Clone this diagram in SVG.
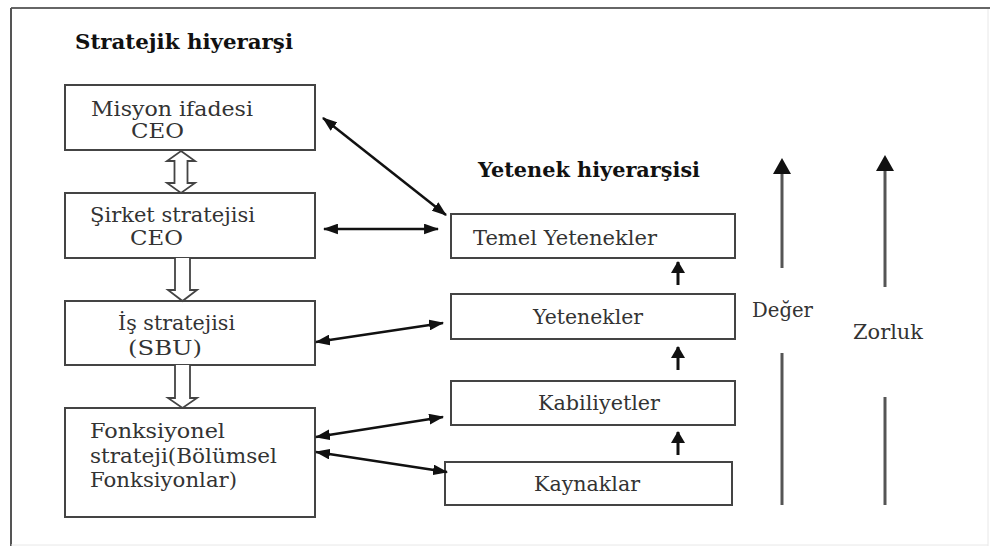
<svg xmlns="http://www.w3.org/2000/svg" width="990" height="546" viewBox="0 0 990 546">
<defs>
<style>
.box{fill:#fff;stroke:#444;stroke-width:2}
.t{font-family:'DejaVu Serif','Liberation Serif',serif;font-size:21px;fill:#333}
.h{font-family:'DejaVu Serif','Liberation Serif',serif;font-size:21px;font-weight:bold;fill:#111}
.hol{fill:#fff;stroke:#444;stroke-width:1.8;stroke-linejoin:miter}
.con{stroke:#111;stroke-width:2.5;fill:none}
.dbl{marker-start:url(#ah);marker-end:url(#ah)}
.up{stroke:#111;stroke-width:3;fill:none;marker-end:url(#ahs)}
.vl{stroke:#555;stroke-width:3;fill:none}
</style>
<marker id="ah" viewBox="0 0 14 10" refX="13" refY="5" markerWidth="15" markerHeight="11" markerUnits="userSpaceOnUse" orient="auto-start-reverse">
<path d="M0,0 L14,5 L0,10 Z" fill="#111"/>
</marker>
<marker id="ahs" viewBox="0 0 12 14" refX="11" refY="7" markerWidth="12" markerHeight="14" markerUnits="userSpaceOnUse" orient="auto">
<path d="M0,0 L12,7 L0,14 Z" fill="#111"/>
</marker>
</defs>
<rect x="0" y="0" width="990" height="546" fill="#fff"/>
<g id="frame">
<line x1="11" y1="8" x2="990" y2="8" stroke="#666" stroke-width="2"/>
<line x1="11" y1="8" x2="11" y2="546" stroke="#555" stroke-width="2"/>
<line x1="988" y1="9" x2="988" y2="546" stroke="#e8e8e8" stroke-width="1"/>
<line x1="11" y1="545" x2="988" y2="545" stroke="#e8e8e8" stroke-width="1"/>
</g>
<g id="titles">
<text class="h" x="75" y="49" textLength="218" lengthAdjust="spacingAndGlyphs">Stratejik hiyerarşi</text>
<text class="h" x="478" y="177" textLength="222" lengthAdjust="spacingAndGlyphs">Yetenek hiyerarşisi</text>
</g>
<g id="misyon">
<rect class="box" x="65" y="85" width="250" height="65"/>
<text class="t" x="91" y="116" textLength="162" lengthAdjust="spacingAndGlyphs">Misyon ifadesi</text>
<text class="t" x="131" y="138" textLength="53" lengthAdjust="spacingAndGlyphs">CEO</text>
</g>
<g id="sirket">
<rect class="box" x="65" y="193" width="250" height="65"/>
<text class="t" x="90" y="222" textLength="165" lengthAdjust="spacingAndGlyphs">Şirket stratejisi</text>
<text class="t" x="130" y="245" textLength="53" lengthAdjust="spacingAndGlyphs">CEO</text>
</g>
<g id="is">
<rect class="box" x="65" y="301" width="250" height="64"/>
<text class="t" x="118" y="330" textLength="117" lengthAdjust="spacingAndGlyphs">İş stratejisi</text>
<text class="t" x="128" y="355" textLength="74" lengthAdjust="spacingAndGlyphs">(SBU)</text>
</g>
<g id="fonksiyonel">
<rect class="box" x="65" y="408" width="250" height="109"/>
<text class="t" x="90" y="438" textLength="135" lengthAdjust="spacingAndGlyphs">Fonksiyonel</text>
<text class="t" x="90" y="463" textLength="187" lengthAdjust="spacingAndGlyphs">strateji(Bölümsel</text>
<text class="t" x="90" y="487" textLength="147" lengthAdjust="spacingAndGlyphs">Fonksiyonlar)</text>
</g>
<g id="temel">
<rect class="box" x="451" y="214" width="284" height="44"/>
<text class="t" x="473" y="245" textLength="184" lengthAdjust="spacingAndGlyphs">Temel  Yetenekler</text>
</g>
<g id="yetenekler">
<rect class="box" x="451" y="294" width="284" height="45"/>
<text class="t" x="533" y="324" textLength="110" lengthAdjust="spacingAndGlyphs">Yetenekler</text>
</g>
<g id="kabiliyetler">
<rect class="box" x="451" y="381" width="284" height="44"/>
<text class="t" x="538" y="410" textLength="122" lengthAdjust="spacingAndGlyphs">Kabiliyetler</text>
</g>
<g id="kaynaklar">
<rect class="box" x="445" y="462" width="287" height="43"/>
<text class="t" x="534" y="491" textLength="106" lengthAdjust="spacingAndGlyphs">Kaynaklar</text>
</g>
<g id="deger">
<line class="vl" x1="782" y1="268" x2="782" y2="172" stroke="#111"/>
<path d="M782,158 L791,174 L773,174 Z" fill="#111"/>
<line class="vl" x1="782" y1="353" x2="782" y2="505"/>
<text class="t" x="752" y="317" textLength="61" lengthAdjust="spacingAndGlyphs">Değer</text>
</g>
<g id="zorluk">
<line class="vl" x1="885" y1="287" x2="885" y2="170" stroke="#111"/>
<path d="M885,155 L894,171 L876,171 Z" fill="#111"/>
<line class="vl" x1="885" y1="397" x2="885" y2="505"/>
<text class="t" x="853" y="339" textLength="70" lengthAdjust="spacingAndGlyphs">Zorluk</text>
</g>
<g id="connectors">
<path class="hol" d="M181,151 L195,161 L187.5,161 L187.5,183 L195,183 L181,193 L167,183 L174.5,183 L174.5,161 L167,161 Z"/>
<path class="hol" d="M175,258 L175,290 L168,290 L182.5,301 L197,290 L190,290 L190,258"/>
<path class="hol" d="M175,365 L175,398 L168,398 L182.5,408 L197,398 L190,398 L190,365"/>
<line class="con dbl" x1="323" y1="118" x2="446" y2="215"/>
<line class="con dbl" x1="324" y1="229" x2="438" y2="229"/>
<line class="con dbl" x1="316" y1="342" x2="443" y2="323"/>
<line class="con dbl" x1="316" y1="437" x2="443" y2="417"/>
<line class="con dbl" x1="316" y1="452" x2="447" y2="472"/>
<line class="up" x1="678" y1="285" x2="678" y2="262"/>
<line class="up" x1="678" y1="370" x2="678" y2="347"/>
<line class="up" x1="678" y1="455" x2="678" y2="432"/>
</g>
</svg>
